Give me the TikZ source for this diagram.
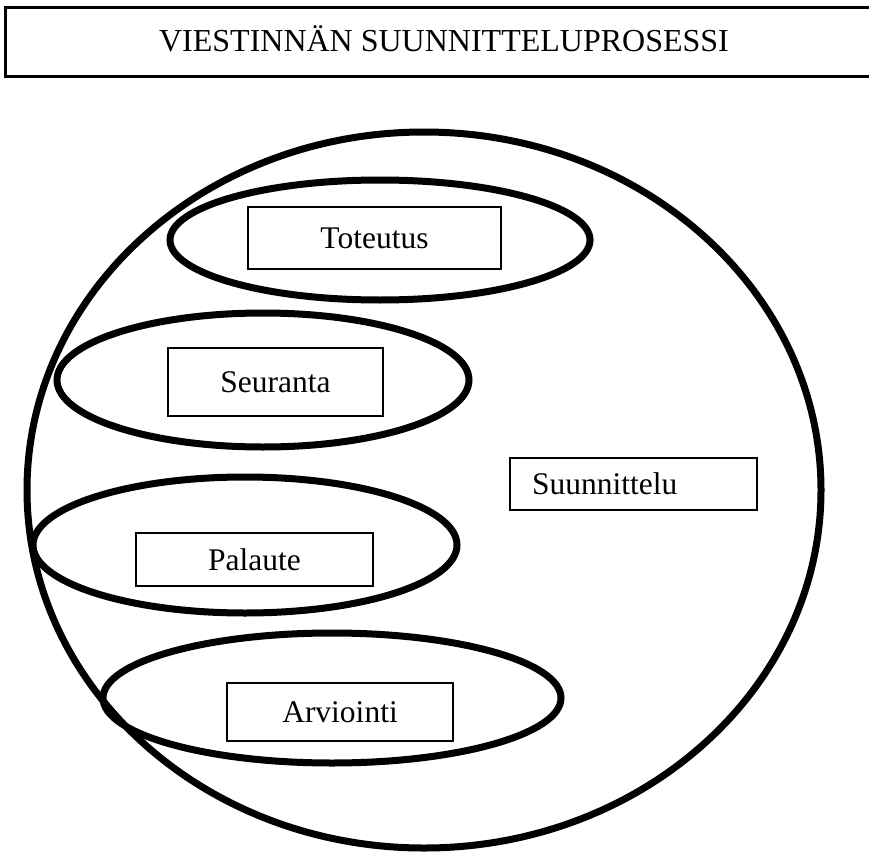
\documentclass[tikz,border=0pt]{standalone}
\usepackage{fontspec}
\setmainfont{Liberation Serif}
\begin{document}
\begin{tikzpicture}[x=1pt,y=-1pt,
  thickline/.style={line width=7pt},
  lblbox/.style={draw, line width=2pt, inner sep=0pt, font=\fontsize{31.5}{36}\selectfont},
  titlebox/.style={draw, line width=3pt}]
\useasboundingbox (0,0) rectangle (869,853);
\begin{scope}
\clip (0,0) rectangle (869,853);
% title box (runs past the right edge)
\draw[titlebox] (5,8) rectangle (900,77);
\end{scope}
\node[font=\fontsize{32}{38}\selectfont, inner sep=0pt] (title) at (444,39) {VIESTINNÄN SUUNNITTELUPROSESSI};
% big outer ellipse
\draw[thickline] (424,490) ellipse [x radius=397, y radius=358];
% inner ellipses
\draw[thickline] (380,240) ellipse [x radius=210, y radius=60];
\draw[thickline] (263,380) ellipse [x radius=206, y radius=67];
\draw[thickline] (245,545) ellipse [x radius=212, y radius=68];
\draw[thickline] (332,698) ellipse [x radius=229, y radius=65];
% label boxes
\node[lblbox, minimum width=253pt, minimum height=62pt] (tot) at (374.5,238) {Toteutus};
\node[lblbox, minimum width=215pt, minimum height=68pt] (seu) at (275.5,382) {Seuranta};
\node[lblbox, minimum width=237pt, minimum height=53pt] (pal) at (254.5,559.5) {Palaute};
\node[lblbox, minimum width=226pt, minimum height=58pt] (arv) at (340,712) {Arviointi};
\node[lblbox, minimum width=247pt, minimum height=52pt, inner xsep=22pt, text width=203pt, align=left] (suu) at (633.5,484) {Suunnittelu};
\end{tikzpicture}
\end{document}
